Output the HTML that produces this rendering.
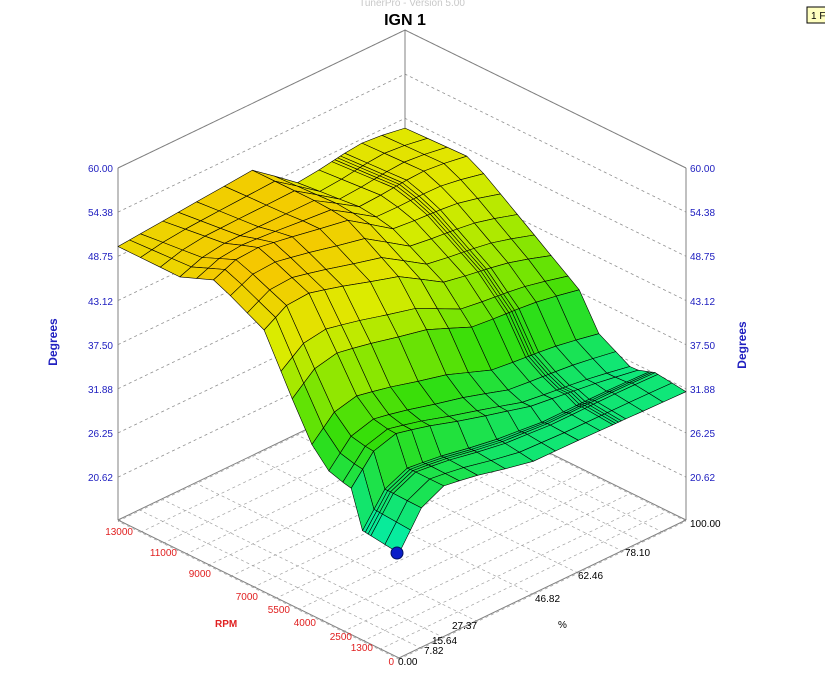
<!DOCTYPE html>
<html><head><meta charset="utf-8">
<style>
html,body{margin:0;padding:0;background:#fff;}
svg{display:block;}
text{font-family:"Liberation Sans",Arial,sans-serif;}
</style></head>
<body>
<svg id="s" width="825" height="686" viewBox="0 0 825 686" xmlns="http://www.w3.org/2000/svg">
<rect width="825" height="686" fill="#fff"/>
<text x="412" y="6" font-size="10" fill="#c8c8c8" text-anchor="middle">TunerPro - Version 5.00</text>
<rect x="807" y="7" width="24" height="16" fill="#ffffc0" stroke="#000" stroke-width="1"/>
<text x="811" y="19" font-size="10" fill="#000">1 F</text>
<text x="405" y="25" font-size="16" font-weight="bold" fill="#000" text-anchor="middle">IGN 1</text>
<g id="grid"></g>
<g stroke="#808080" stroke-width="1" fill="none">
<line x1="118" y1="168" x2="118" y2="520"/>
<line x1="686" y1="168" x2="686" y2="520"/>
<line x1="405" y1="30" x2="405" y2="382"/>
<polyline points="118,168 405,30 686,168"/>
<polyline points="118,520 405,382 686,520"/>
<polyline points="118,520 399,658 686,520"/>
</g>
<g id="surf"></g>
<circle cx="397" cy="553" r="6" fill="#0a1ec8" stroke="#001060" stroke-width="1"/>
<g font-size="10" fill="#2020c0" text-anchor="end">
<text x="113" y="172">60.00</text><text x="113" y="216">54.38</text><text x="113" y="260">48.75</text><text x="113" y="305">43.12</text><text x="113" y="349">37.50</text><text x="113" y="393">31.88</text><text x="113" y="437">26.25</text><text x="113" y="481">20.62</text>
</g>
<g font-size="10" fill="#2020c0">
<text x="690" y="172">60.00</text><text x="690" y="216">54.38</text><text x="690" y="260">48.75</text><text x="690" y="305">43.12</text><text x="690" y="349">37.50</text><text x="690" y="393">31.88</text><text x="690" y="437">26.25</text><text x="690" y="481">20.62</text>
</g>
<text x="690" y="527" font-size="10" fill="#000">100.00</text>
<text transform="translate(57,342) rotate(-90)" font-size="12" font-weight="bold" fill="#2020c0" text-anchor="middle">Degrees</text>
<text transform="translate(746,345) rotate(-90)" font-size="12" font-weight="bold" fill="#2020c0" text-anchor="middle">Degrees</text>
<g font-size="10" fill="#e02020" text-anchor="end">
<text x="133" y="535">13000</text><text x="177" y="556">11000</text><text x="211" y="577">9000</text><text x="258" y="600">7000</text><text x="290" y="613">5500</text><text x="316" y="626">4000</text><text x="352" y="640">2500</text><text x="373" y="651">1300</text><text x="394" y="665">0</text>
</g>
<text x="215" y="627" font-size="10" font-weight="bold" fill="#e02020">RPM</text>
<g font-size="10" fill="#000">
<text x="398" y="665">0.00</text><text x="424" y="654">7.82</text><text x="432" y="644">15.64</text><text x="452" y="629">27.37</text><text x="535" y="602">46.82</text><text x="578" y="579">62.46</text><text x="625" y="556">78.10</text>
<text x="558" y="628">%</text>
</g>
</svg>
<script>
var NS="http://www.w3.org/2000/svg";
function P(r,p,z){return [399-281*r+287*p, 306-138*r-138*p+(60-z)*7.85];}
function el(g,t,a){var e=document.createElementNS(NS,t);for(var k in a)e.setAttribute(k,a[k]);g.appendChild(e);return e;}
var grid=document.getElementById('grid');
var lv=[60,54.38,48.75,43.12,37.5,31.88,26.25,20.62];
lv.forEach(function(z){var y=168+(60-z)*7.85;
 el(grid,'polyline',{points:"118,"+y+" 405,"+(y-138)+" 686,"+y,fill:"none",stroke:"#909090","stroke-dasharray":"3,3","stroke-width":"0.8"});});
var rt=[0,0.07,0.13,0.2,0.28,0.36,0.44,0.52,0.6,0.68,0.76,0.84,0.92,1];
var pt=[0,0.0782,0.1564,0.2737,0.4682,0.6246,0.781,0.85,0.92,1];
rt.forEach(function(r){var a=P(r,0,15),b=P(r,1,15);el(grid,'line',{x1:a[0],y1:a[1],x2:b[0],y2:b[1],stroke:"#a0a0a0","stroke-dasharray":"3,3","stroke-width":"0.7"});});
pt.forEach(function(p){var a=P(0,p,15),b=P(1,p,15);el(grid,'line',{x1:a[0],y1:a[1],x2:b[0],y2:b[1],stroke:"#a0a0a0","stroke-dasharray":"3,3","stroke-width":"0.7"});});
function pl(arr,t){for(var i=0;i<arr.length-1;i++){if(t<=arr[i+1][0]){var f=(t-arr[i][0])/(arr[i+1][0]-arr[i][0]);return arr[i][1]+f*(arr[i+1][1]-arr[i][1]);}}return arr[arr.length-1][1];}
var E0=[[0,28.5],[0.15,29.2],[0.17,33.8],[0.245,34.4],[0.32,37.3],[0.48,48.5],[0.655,51.8],[0.78,50],[1,50]];
var F1=[[0,50],[0.47,51.5],[0.63,47],[0.79,48],[0.87,48.3],[1,47.5]];
var E1=[[0,31.5],[0.11,32],[0.19,31],[0.313,33.5],[0.38,37.8],[0.71,46.4],[0.776,47.8],[1,47.5]];
var F0=[[0,28.5],[0.108,34.6],[0.254,33.8],[0.453,32],[0.627,31.9],[1,31.5]];
function Z(r,p){var z00=28.5,z10=50,z01=31.5,z11=47.5;
 var bl=(1-r)*(1-p)*z00+r*(1-p)*z10+(1-r)*p*z01+r*p*z11;
 return (1-p)*pl(E0,r)+p*pl(E1,r)+(1-r)*pl(F0,p)+r*pl(F1,p)-bl;}
var stops=[[0,[0,240,190]],[0.2,[20,228,100]],[0.4,[50,222,10]],[0.6,[150,232,0]],[0.8,[222,235,0]],[1,[245,200,0]]];
function col(z){var t=(z-28)/(52-28);t=Math.max(0,Math.min(1,t));
 for(var i=0;i<stops.length-1;i++){if(t<=stops[i+1][0]){var f=(t-stops[i][0])/(stops[i+1][0]-stops[i][0]);var a=stops[i][1],b=stops[i+1][1];
 return "rgb("+Math.round(a[0]+f*(b[0]-a[0]))+","+Math.round(a[1]+f*(b[1]-a[1]))+","+Math.round(a[2]+f*(b[2]-a[2]))+")";}}return "rgb(245,200,0)";}
var R=[0,0.05,0.1,0.11,0.12,0.13,0.17,0.2,0.25,0.31,0.38,0.42,0.48,0.54,0.6,0.66,0.72,0.78,0.85,0.92,1];
var Pp=[0,0.04,0.078,0.156,0.21,0.274,0.37,0.468,0.545,0.625,0.70,0.745,0.755,0.765,0.775,0.79,0.85,0.92,1];
var cells=[];
for(var i=0;i<R.length-1;i++)for(var j=0;j<Pp.length-1;j++){cells.push([i,j,R[i]+R[i+1]+Pp[j]+Pp[j+1]]);}
cells.sort(function(a,b){return b[2]-a[2];});
var surf=document.getElementById('surf');
cells.forEach(function(c){var i=c[0],j=c[1];
 var q=[[R[i],Pp[j]],[R[i+1],Pp[j]],[R[i+1],Pp[j+1]],[R[i],Pp[j+1]]];
 var zs=0,pts=[];q.forEach(function(v){var z=Z(v[0],v[1]);zs+=z;var s=P(v[0],v[1],z);pts.push(s[0].toFixed(1)+","+s[1].toFixed(1));});
 el(surf,'polygon',{points:pts.join(" "),fill:col(zs/4),stroke:"#000","stroke-width":"0.6","stroke-linejoin":"round"});});
</script>
</body></html>
